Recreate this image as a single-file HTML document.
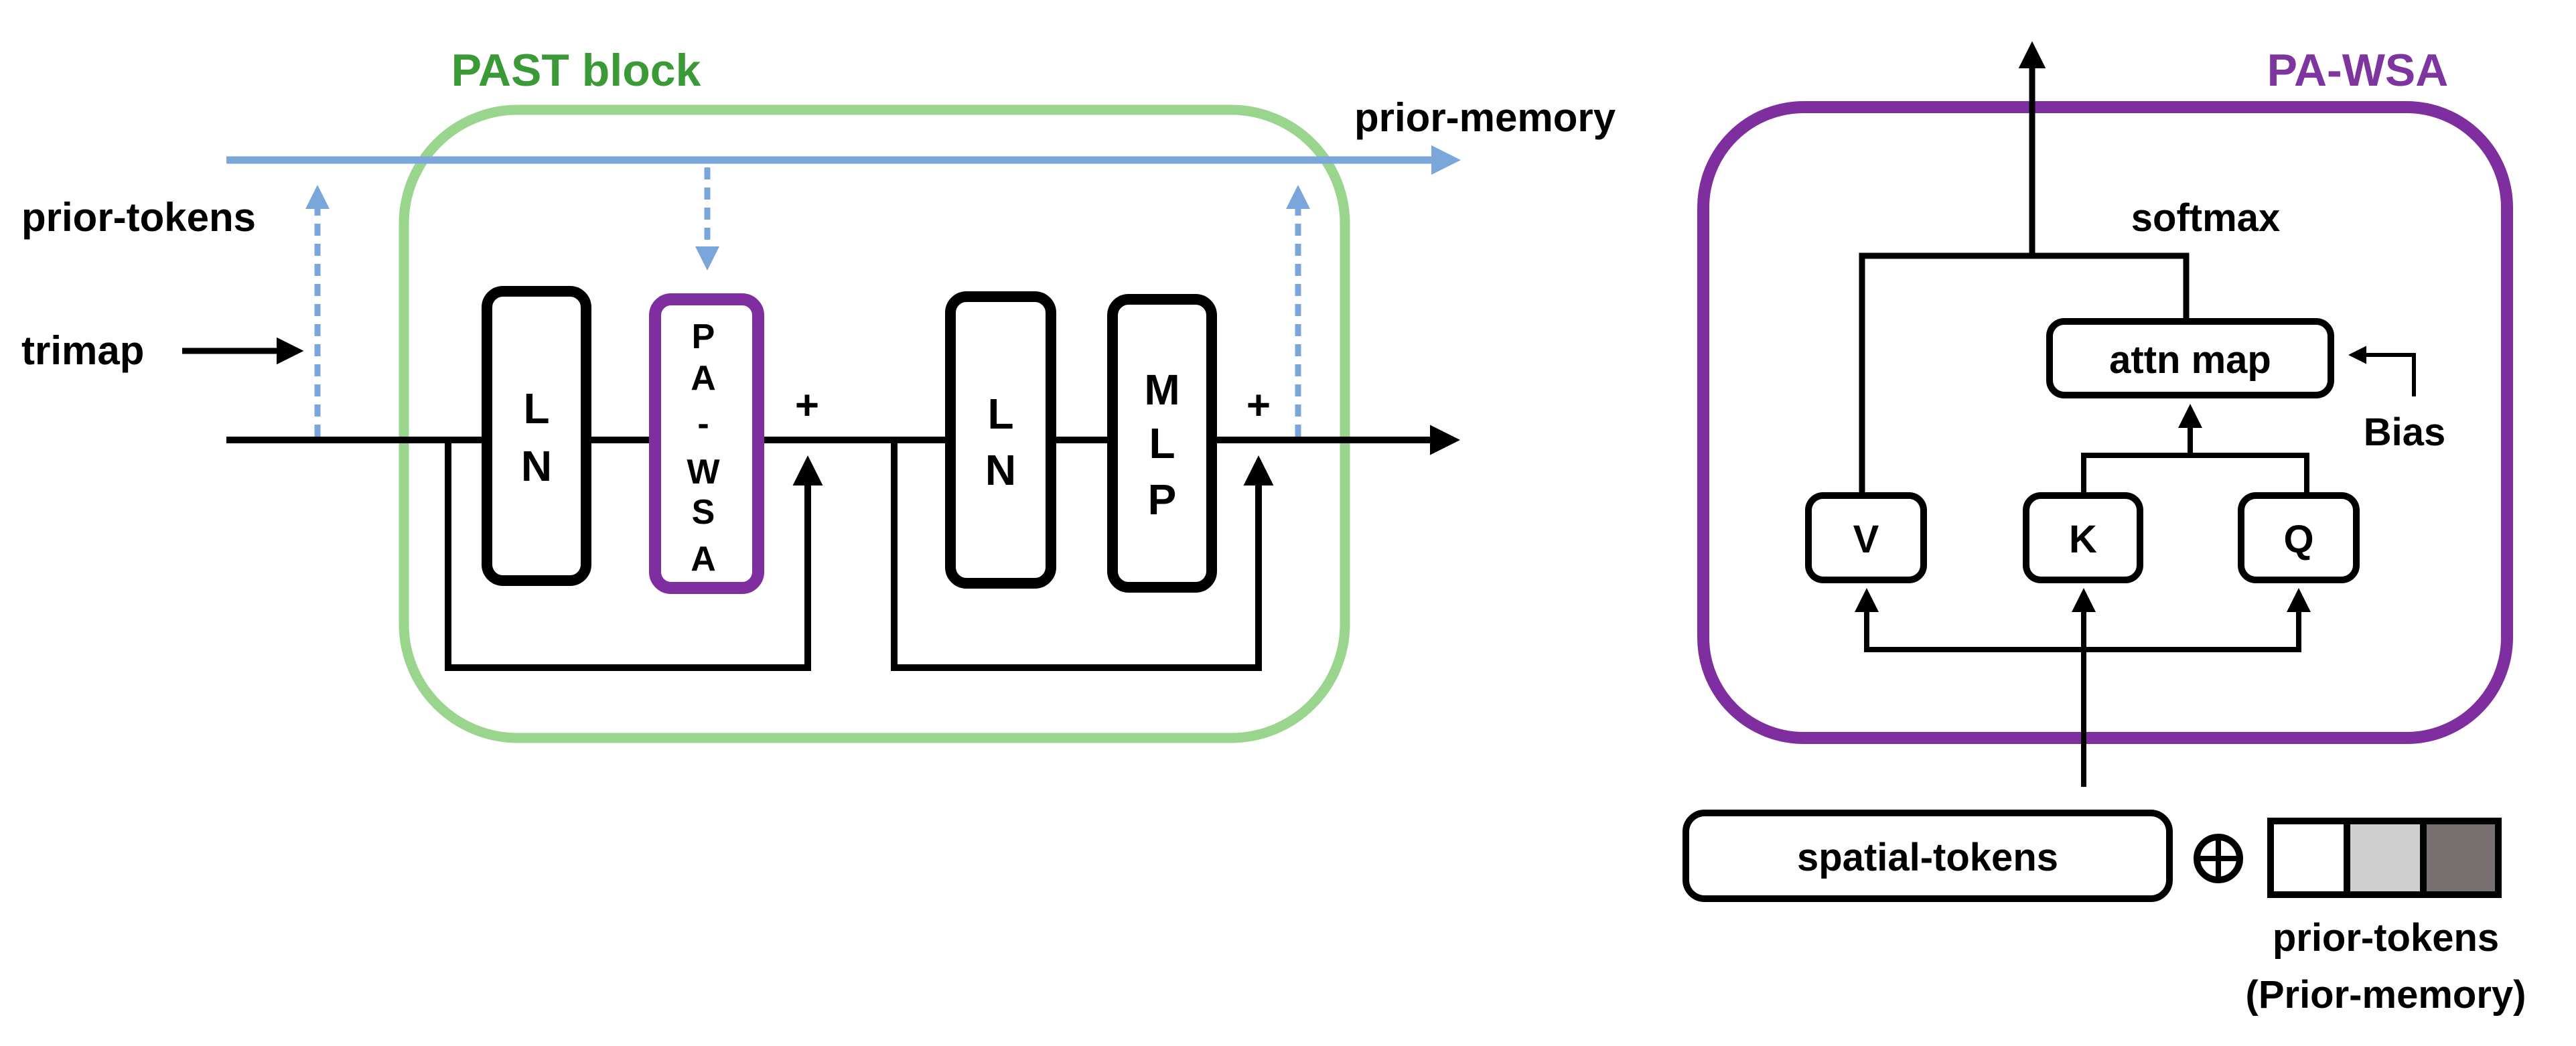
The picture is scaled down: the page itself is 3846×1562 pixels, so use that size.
<!DOCTYPE html>
<html><head><meta charset="utf-8"><style>
html,body{margin:0;padding:0;background:#fff;}
svg{display:block;}
text{font-family:"Liberation Sans",Arial,sans-serif;font-weight:bold;}
</style></head><body>
<svg width="3846" height="1562" viewBox="0 0 3846 1562" xmlns="http://www.w3.org/2000/svg">
<defs>
<marker id="ab" markerWidth="4.5" markerHeight="4.5" refX="3" refY="2.25" orient="auto" markerUnits="strokeWidth"><path d="M0,0 L4.5,2.25 L0,4.5 Z" fill="#000"/></marker>
<marker id="ablue" markerWidth="4" markerHeight="4" refX="3" refY="2" orient="auto" markerUnits="strokeWidth"><path d="M0,0 L4,2 L0,4 Z" fill="#7aa6dc"/></marker>
</defs>
<!-- LEFT: PAST block -->
<text x="860" y="128" font-size="68" fill="#3a9a35" text-anchor="middle">PAST block</text>
<rect x="603" y="164" width="1405" height="938" rx="170" fill="none" stroke="#9ad58e" stroke-width="15"/>
<text x="2022" y="196" font-size="60" fill="#000">prior-memory</text>
<line x1="338" y1="239" x2="2170" y2="239" stroke="#7aa6dc" stroke-width="11" marker-end="url(#ablue)"/>
<text x="32" y="345" font-size="60" fill="#000">prior-tokens</text>
<text x="32" y="544" font-size="60" fill="#000">trimap</text>
<line x1="272" y1="524" x2="440" y2="524" stroke="#000" stroke-width="9" marker-end="url(#ab)"/>
<!-- dotted blue -->
<line x1="474" y1="652" x2="474" y2="285" stroke="#7aa6dc" stroke-width="9" stroke-dasharray="18,12" marker-end="url(#ablue)"/>
<line x1="1056" y1="250" x2="1056" y2="395" stroke="#7aa6dc" stroke-width="9" stroke-dasharray="18,12" marker-end="url(#ablue)"/>
<line x1="1938" y1="652" x2="1938" y2="285" stroke="#7aa6dc" stroke-width="9" stroke-dasharray="18,12" marker-end="url(#ablue)"/>
<!-- main line -->
<line x1="338" y1="657" x2="2165" y2="657" stroke="#000" stroke-width="10" marker-end="url(#ab)"/>
<!-- skip 1 -->
<polyline points="669,657 669,997 1206,997 1206,700" fill="none" stroke="#000" stroke-width="10"/>
<line x1="1206" y1="720" x2="1206" y2="695" stroke="#000" stroke-width="10" marker-end="url(#ab)"/>
<!-- skip 2 -->
<polyline points="1335,657 1335,997 1879,997 1879,700" fill="none" stroke="#000" stroke-width="10"/>
<line x1="1879" y1="720" x2="1879" y2="695" stroke="#000" stroke-width="10" marker-end="url(#ab)"/>
<!-- boxes -->
<rect x="727" y="435" width="148" height="432" rx="24" fill="#fff" stroke="#000" stroke-width="16"/>
<text x="801" y="632" font-size="64" text-anchor="middle">L</text>
<text x="801" y="718" font-size="64" text-anchor="middle">N</text>
<rect x="978" y="447" width="154" height="431" rx="24" fill="#fff" stroke="#7f2ea0" stroke-width="18"/>
<g font-size="52" text-anchor="middle">
<text x="1050" y="520">P</text><text x="1050" y="582">A</text><text x="1050" y="650">-</text>
<text x="1050" y="722">W</text><text x="1050" y="782">S</text><text x="1050" y="852">A</text></g>
<rect x="1419" y="443" width="150" height="428" rx="24" fill="#fff" stroke="#000" stroke-width="16"/>
<text x="1494" y="640" font-size="64" text-anchor="middle">L</text>
<text x="1494" y="724" font-size="64" text-anchor="middle">N</text>
<rect x="1661" y="447" width="148" height="430" rx="24" fill="#fff" stroke="#000" stroke-width="16"/>
<text x="1735" y="604" font-size="64" text-anchor="middle">M</text>
<text x="1735" y="684" font-size="64" text-anchor="middle">L</text>
<text x="1735" y="768" font-size="64" text-anchor="middle">P</text>
<text x="1205" y="626" font-size="62" text-anchor="middle">+</text>
<text x="1879" y="626" font-size="62" text-anchor="middle">+</text>

<!-- RIGHT: PA-WSA -->
<text x="3520" y="128" font-size="68" fill="#7f35a0" text-anchor="middle">PA-WSA</text>
<rect x="2543" y="160" width="1200" height="942" rx="150" fill="none" stroke="#7f2ea0" stroke-width="18"/>
<line x1="3034" y1="382" x2="3034" y2="75" stroke="#000" stroke-width="9" marker-end="url(#ab)"/>
<polyline points="2780,740 2780,382 3264,382 3264,478" fill="none" stroke="#000" stroke-width="9"/>
<text x="3293" y="345" font-size="58" text-anchor="middle">softmax</text>
<rect x="3060" y="480" width="420" height="110" rx="22" fill="#fff" stroke="#000" stroke-width="10"/>
<text x="3270" y="557" font-size="58" text-anchor="middle">attn map</text>
<polyline points="3604,592 3604,530 3530,530" fill="none" stroke="#000" stroke-width="6"/>
<line x1="3540" y1="530" x2="3515" y2="530" stroke="#000" stroke-width="6" marker-end="url(#ab)"/>
<text x="3590" y="665" font-size="58" text-anchor="middle">Bias</text>
<polyline points="3111,740 3111,680 3444,680 3444,740" fill="none" stroke="#000" stroke-width="8"/>
<line x1="3270" y1="680" x2="3270" y2="615" stroke="#000" stroke-width="8" marker-end="url(#ab)"/>
<rect x="2700" y="740" width="172" height="126" rx="22" fill="#fff" stroke="#000" stroke-width="10"/>
<text x="2786" y="825" font-size="58" text-anchor="middle">V</text>
<rect x="3025" y="740" width="170" height="126" rx="22" fill="#fff" stroke="#000" stroke-width="10"/>
<text x="3110" y="825" font-size="58" text-anchor="middle">K</text>
<rect x="3346" y="740" width="172" height="126" rx="22" fill="#fff" stroke="#000" stroke-width="10"/>
<text x="3432" y="825" font-size="58" text-anchor="middle">Q</text>
<polyline points="2787,895 2787,970 3432,970 3432,895" fill="none" stroke="#000" stroke-width="8"/>
<line x1="2787" y1="905" x2="2787" y2="890" stroke="#000" stroke-width="8" marker-end="url(#ab)"/>
<line x1="3432" y1="905" x2="3432" y2="890" stroke="#000" stroke-width="8" marker-end="url(#ab)"/>
<line x1="3111" y1="1175" x2="3111" y2="890" stroke="#000" stroke-width="8" marker-end="url(#ab)"/>
<rect x="2517" y="1214" width="722" height="128" rx="28" fill="#fff" stroke="#000" stroke-width="10"/>
<text x="2878" y="1300" font-size="58" text-anchor="middle">spatial-tokens</text>
<circle cx="3312" cy="1282" r="32" fill="none" stroke="#000" stroke-width="10"/>
<line x1="3280" y1="1282" x2="3344" y2="1282" stroke="#000" stroke-width="8"/>
<line x1="3312" y1="1250" x2="3312" y2="1314" stroke="#000" stroke-width="8"/>
<rect x="3390" y="1226" width="114" height="110" fill="#fff"/>
<rect x="3504" y="1226" width="114" height="110" fill="#cfcfcf"/>
<rect x="3618" y="1226" width="112" height="110" fill="#787070"/>
<rect x="3390" y="1226" width="340" height="110" fill="none" stroke="#000" stroke-width="10"/>
<line x1="3504" y1="1226" x2="3504" y2="1336" stroke="#000" stroke-width="10"/>
<line x1="3618" y1="1226" x2="3618" y2="1336" stroke="#000" stroke-width="10"/>
<text x="3562" y="1420" font-size="58" text-anchor="middle">prior-tokens</text>
<text x="3562" y="1505" font-size="58" text-anchor="middle">(Prior-memory)</text>
</svg>
</body></html>
